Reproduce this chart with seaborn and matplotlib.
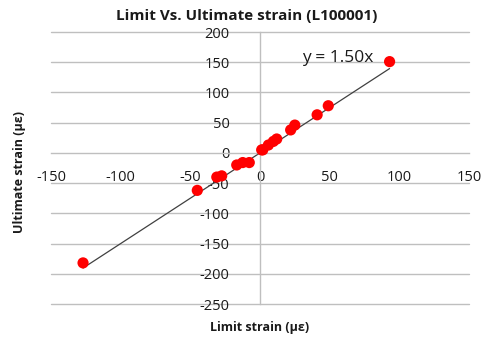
import matplotlib
matplotlib.use("Agg")
import matplotlib.pyplot as plt
import seaborn as sns
import numpy as np
import pandas as pd

# Data
limit_strain = [-127, -45, -31, -27.5, -16.7, -12.4, -7.7, 1.2, 2, 6, 9.6, 12, 22, 25, 41, 49, 93]
ultimate_strain = [-182, -62, -40, -38, -20, -16, -16, 5, 5, 13, 19, 23, 38, 46, 63, 78, 151]
slope = 1.50
x_ticks = [-150, -100, -50, 0, 50, 100, 150]
y_ticks = [200, 150, 100, 50, 0, -50, -100, -150, -200, -250]
title = "Limit Vs. Ultimate strain (L100001)"
x_label = "Limit strain (\u03bc\u03b5)"
y_label = "Ultimate strain (\u03bc\u03b5)"
eq_text = "y = 1.50x"

sns.set_style("white")
plt.rcParams['font.family'] = ['Open Sans', 'DejaVu Sans']

df = pd.DataFrame({"x": limit_strain, "y": ultimate_strain})

fig = plt.figure(figsize=(4.86, 3.38), dpi=100)
ax = fig.add_axes([51/486, 1 - 304/338, (469-51)/486, (304-32)/338])

grid_c = "#bfbfbf"
for yv in y_ticks:
    if yv != 0:
        ax.axhline(yv, color=grid_c, lw=1, zorder=0, clip_on=False)

# trendline
tx = np.array([min(limit_strain), max(limit_strain)])
ax.plot(tx, slope * tx, color="#404040", lw=0.9, zorder=2)

sns.scatterplot(data=df, x="x", y="y", ax=ax, color="#ff0000", s=65,
                edgecolor="none", zorder=3, legend=False)

ax.set_xlim(-150, 150)
ax.set_ylim(-250, 200)
ax.set_xticks(x_ticks)
ax.set_yticks(y_ticks)
ax.set_xticklabels([str(v) for v in x_ticks])
ax.set_yticklabels([str(v) for v in y_ticks])

for s in ["top", "right"]:
    ax.spines[s].set_visible(False)
ax.spines["left"].set_position(("data", 0))
ax.spines["bottom"].set_position(("data", 0))
ax.spines["left"].set_color(grid_c)
ax.spines["bottom"].set_color(grid_c)
ax.spines["left"].set_linewidth(1)
ax.spines["bottom"].set_linewidth(1)
ax.tick_params(axis="both", length=0, labelsize=10.5, colors="#1a1a1a")
ax.tick_params(axis="y", pad=22)
ax.tick_params(axis="x", pad=12)
ax.set_xlabel("")
ax.set_ylabel("")

ax.text(30, 157, eq_text, fontsize=12.5, va="center", ha="left", color="#1a1a1a")

fig.text(247/486, 1 - 16/338, title, ha="center", va="center",
         fontsize=11, fontweight="bold", color="#1a1a1a")
fig.text(260/486, 1 - 327/338, x_label, ha="center", va="center",
         fontsize=9, fontweight="bold", color="#1a1a1a")
fig.text(20/486, 1 - 172/338, y_label, ha="center", va="center",
         rotation=90, fontsize=9, fontweight="bold", color="#1a1a1a")

fig.savefig("out.png", dpi=100)
